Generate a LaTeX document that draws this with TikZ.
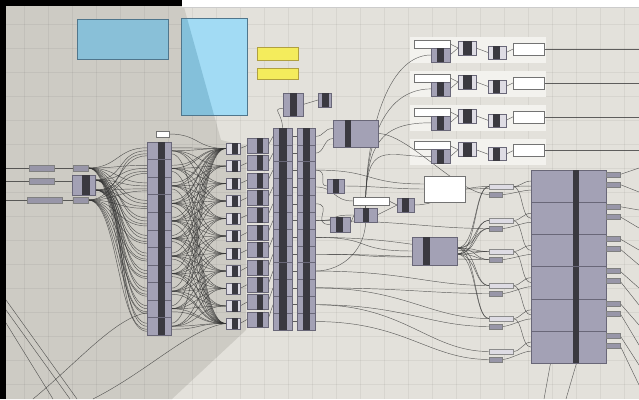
\documentclass[tikz,border=0pt]{standalone}
\usetikzlibrary{calc}
\definecolor{canL}{RGB}{227,225,219}
\definecolor{canD}{RGB}{205,203,196}
\definecolor{nodeF}{RGB}{163,161,181}
\definecolor{nodeB}{RGB}{105,103,120}
\definecolor{dk}{RGB}{58,57,64}
\definecolor{wireC}{RGB}{50,50,50}
\definecolor{panelC}{RGB}{243,242,238}
\definecolor{blueA}{RGB}{137,192,216}
\definecolor{blueB}{RGB}{162,219,244}
\definecolor{blueBs}{RGB}{132,192,218}
\definecolor{blueE}{RGB}{80,118,140}
\definecolor{yel}{RGB}{244,236,92}
\definecolor{yelE}{RGB}{176,160,64}
\definecolor{barF}{RGB}{152,150,168}
\definecolor{lightbar}{RGB}{222,220,228}
\pgfdeclarelayer{back}\pgfdeclarelayer{panels}\pgfdeclarelayer{wires}
\pgfsetlayers{back,panels,wires,main}
\tikzset{
 gnode/.style={draw=nodeB,fill=nodeF,line width=0.5pt,inner sep=0pt,outer sep=0pt,anchor=north west},
 wbox/.style={gnode,fill=white,draw=black!55},
 gbar/.style={gnode,fill=barF,draw=black!50},
 lbar/.style={gnode,fill=lightbar,draw=black!45},
 wire/.style={draw=wireC,line width=0.45pt,opacity=0.75},
 strip/.style={fill=dk},
}
\newcommand\ghn[8][]{\node[gnode,#1,minimum width=#5pt,minimum height=#6pt] (#2) at (#3,#4) {};\fill[strip] ({#3+#7},#4) rectangle ({#3+#7+#8},{#4+#6});}
\newcommand\gbx[6]{\node[#6,minimum width=#4pt,minimum height=#5pt] (#1) at (#2,#3) {};}
\begin{document}
\begin{tikzpicture}[x=1pt,y=-1pt]
\useasboundingbox (0,0) rectangle (639,399);
\begin{pgfonlayer}{back}
\fill[canL] (0,0) rectangle (639,399);
\fill[canD] (0,0) -- (182,0) -- (221,140) -- (246,146) -- (246,330) -- (172,399) -- (0,399) -- cycle;
\foreach \g in {0,24,...,639}{\draw[black,opacity=0.05,line width=0.5pt] (\g,0) -- (\g,399);}
\foreach \g in {0,24,...,399}{\draw[black,opacity=0.05,line width=0.5pt] (0,\g) -- (639,\g);}
\fill[black] (0,0) rectangle (182,6);
\fill[white] (182,0) rectangle (639,7);
\draw[black!20,line width=0.5pt] (182,7) -- (639,7);
\fill[black] (0,0) rectangle (6,399);
\end{pgfonlayer}

% blue and yellow panels
\node[gnode,fill=blueA,draw=blueE,minimum width=91pt,minimum height=40pt] (blue1) at (77,19) {};
\node[gnode,fill=blueB,draw=blueE,minimum width=66pt,minimum height=97pt] (blue2) at (181,18) {};
\fill[blueBs] (181,18) -- (187,18) -- (214,115) -- (181,115) -- cycle;
\draw[blueE,line width=0.5pt] (blue2.north west) rectangle (blue2.south east);
\gbx{Y1}{257}{47}{41}{13}{gnode,fill=yel,draw=yelE}
\gbx{Y2}{257}{68}{41}{11}{gnode,fill=yel,draw=yelE}

% left inputs
\gbx{L1}{29}{165}{25}{6}{gbar}
\gbx{L2}{29}{178}{25}{6}{gbar}
\gbx{L3}{27}{197}{35}{6}{gbar}
\gbx{S1}{73}{165}{15}{6}{gbar}
\gbx{S2}{73}{197}{15}{6}{gbar}
\ghn{N0}{72}{175}{23}{20}{10}{8}
\gbx{T0}{156}{131}{13}{6}{wbox}

% columns
\foreach \i in {1,...,11}{\pgfmathsetmacro\yy{142+(\i-1)*17.55}\ghn{A\i}{147}{\yy}{24}{17.55}{11}{7}}
\foreach \i in {1,...,11}{\pgfmathsetmacro\yy{143+(\i-1)*17.5}\ghn[fill=lightbar]{B\i}{226}{\yy}{14}{11}{6}{6}}
\foreach \i in {1,...,11}{\pgfmathsetmacro\yy{138+(\i-1)*17.4}\ghn{C\i}{247}{\yy}{21}{15}{10}{6}}
\foreach \i in {1,...,12}{\pgfmathsetmacro\yy{128+(\i-1)*16.83}\ghn{D\i}{273}{\yy}{19}{16.83}{6}{8}\ghn{E\i}{297}{\yy}{18}{16.83}{6}{7}}

% right column
\foreach \i in {1,...,6}{\pgfmathsetmacro\yy{170+(\i-1)*32.2}\pgfmathsetmacro\ya{\yy+2}\pgfmathsetmacro\yb{\yy+12}
 \ghn{R\i}{531}{\yy}{75}{32.2}{42}{6}
 \gbx{Pa\i}{606}{\ya}{14}{5}{gbar}\gbx{Pb\i}{606}{\yb}{14}{5}{gbar}}
\foreach \i/\yv in {1/184,2/218,3/249,4/283,5/316,6/349}{
 \gbx{I\i}{489}{\yv}{24}{5}{lbar}\gbx{J\i}{489}{\yv+8}{13}{5}{gbar}}

% top groups
\foreach \k in {1,...,4}{\pgfmathsetmacro\gy{37+(\k-1)*33.9}
 \begin{pgfonlayer}{panels}\fill[panelC] (410,\gy) rectangle (546,\gy+26);\end{pgfonlayer}
 \gbx{GW\k}{414}{\gy+3}{36}{8}{wbox}
 \ghn{Ga\k}{431}{\gy+11}{19}{14}{6}{7}
 \ghn[fill=lightbar]{Gb\k}{458}{\gy+4}{18}{14}{5}{9}
 \ghn[fill=lightbar]{Gc\k}{488}{\gy+9}{18}{13}{5}{7}
 \gbx{Gd\k}{513}{\gy+6}{31}{12}{wbox}
 \coordinate (go\k) at (639,\gy+12);}

% middle nodes
\ghn{M1}{283}{93}{20}{23}{7}{7}
\ghn{M2}{318}{93}{13}{14}{4}{7}
\ghn{M3}{333}{120}{45}{27}{12}{6}
\ghn{M4}{327}{179}{17}{14}{6}{6}
\gbx{WB}{353}{197}{36}{8}{wbox}
\ghn{M5}{354}{208}{23}{14}{9}{6}
\ghn{M6}{397}{198}{17}{14}{5}{7}
\ghn{M7}{330}{217}{20}{15}{6}{7}
\gbx{WX}{424}{176}{41}{26}{wbox}
\ghn{M8}{412}{237}{45}{28}{11}{7}

% free ends
\coordinate (e1) at (6,168); \coordinate (e2) at (6,181); \coordinate (e3) at (6,200);
\coordinate (ll1) at (6,300); \coordinate (lb1) at (77,399);
\coordinate (ll2) at (6,310); \coordinate (lb2) at (70,399);
\coordinate (ll3) at (6,323); \coordinate (lb3) at (53,399);
\coordinate (lb4) at (33,399); \coordinate (lb5) at (93,399);
\coordinate (bb1) at (544,399); \coordinate (bb2) at (566,399);
\foreach \k/\ta/\tb in {1/168/192,2/210/228,3/250/265,4/288/305,5/325/345,6/365/385}{
 \coordinate (ra\k) at (639,\ta); \coordinate (rb\k) at (639,\tb);}

\begin{pgfonlayer}{wires}
\draw[wire] (e1) -- (L1.west) (L1.east) -- (S1.west);
\draw[wire] (e2) -- (L2.west) (L2.east) -- ([yshift=4pt]N0.west);
\draw[wire] (e3) -- (L3.west) (L3.east) -- (S2.west);
\draw[wire] (ll1) -- (lb1); \draw[wire] (ll2) -- (lb2); \draw[wire] (ll3) -- (lb3);
\draw[wire] (lb4) .. controls (80,360) and (115,318) .. ([yshift=-4pt]A10.west);
\draw[wire] (lb5) .. controls (150,370) and (190,328) .. (B11.west);
% fan into column A
\foreach \i in {1,...,11}{
 \draw[wire] (S1.east) .. controls +(30,0) and +(-30,0) .. ([yshift=3pt]A\i.west);
 \draw[wire] ([yshift=5pt]N0.east) .. controls +(30,0) and +(-30,0) .. (A\i.west);
 \draw[wire] ([yshift=-5pt]N0.east) .. controls +(35,0) and +(-35,0) .. ([yshift=-3pt]A\i.west);
 \draw[wire] (S2.east) .. controls +(30,0) and +(-30,0) .. ([yshift=-5pt]A\i.west);
}
% A to B
\foreach \i in {1,...,11}{\foreach \j in {1,...,11}{
 \pgfmathtruncatemacro\dd{abs(\i-\j)}
 \ifnum\dd<4 \draw[wire] (A\i.east) .. controls +(28,0) and +(-28,0) .. (B\j.west);\fi}
 \draw[wire] ([yshift=-3pt]A\i.east) .. controls +(30,0) and +(-30,0) .. (B11.west);
 \draw[wire] ([yshift=3pt]A\i.east) .. controls +(30,0) and +(-30,0) .. (B1.west);
 \draw[wire] (B\i.east) -- (C\i.west);
 \draw[wire] (C\i.east) -- (D\i.west);}
\foreach \i in {1,...,12}{\draw[wire] (D\i.east) -- (E\i.west);}
\draw[wire] (T0.east) .. controls +(30,0) and +(-30,0) .. (B1.west);
\draw[wire] (D1.north) .. controls +(0,-15) and +(-12,0) .. ([yshift=-4pt]M1.west);
\draw[wire] (M1.east) -- (M2.west);
% from column E
\draw[wire] (E1.east) .. controls +(10,0) and +(-10,0) .. ([yshift=5pt]M3.west);
\draw[wire] (E2.east) .. controls +(10,0) and +(-10,0) .. ([yshift=-5pt]M3.west);
\draw[wire] (E3.east) .. controls +(15,0) and +(-10,0) .. (M4.west);
\draw[wire] (E3.east) .. controls +(60,0) and +(-60,0) .. ([yshift=5pt]WX.west);
\draw[wire] (E4.east) .. controls +(20,0) and +(-20,0) .. (WB.west);
\draw[wire] (E5.east) .. controls +(20,0) and +(-20,0) .. (M7.west);
\draw[wire] (E6.east) .. controls +(30,0) and +(-30,0) .. (M5.west);
\draw[wire] (E7.east) .. controls +(60,0) and +(-60,0) .. (M8.west);
\draw[wire] (E8.east) .. controls +(60,0) and +(-60,0) .. ([yshift=-6pt]M8.west);
\draw[wire] (E9.east) .. controls +(30,0) and +(0,25) .. (M5.south);
\draw[wire] (E8.east) .. controls +(90,0) and +(-60,0) .. (J3.west);
\draw[wire] (E9.east) .. controls +(90,0) and +(-60,0) .. (I4.west);
\draw[wire] (E10.east) .. controls +(90,0) and +(-60,0) .. (J4.west);
\draw[wire] (E10.east) .. controls +(90,0) and +(-60,0) .. (I5.west);
\draw[wire] (E11.east) .. controls +(90,0) and +(-60,0) .. (J5.west);
\draw[wire] (E11.east) .. controls +(90,0) and +(-60,0) .. (I6.west);
\draw[wire] (E12.east) .. controls +(90,0) and +(-60,0) .. (J6.west);
\draw[wire] (E7.east) .. controls +(90,0) and +(-60,0) .. (I3.west);
\draw[wire] (E6.east) .. controls +(90,0) and +(-60,0) .. (J2.west);
\draw[wire] (M4.east) .. controls +(30,0) and +(-30,0) .. (WX.west);
\draw[wire] (M7.east) -- (M5.west);
\draw[wire] (M5.east) -- (M6.west);
\draw[wire] (WB.east) -- (M6.west);
\draw[wire] (M6.east) .. controls +(30,0) and +(-40,0) .. (I1.west);
\draw[wire] (WX.east) .. controls +(30,0) and +(-30,0) .. (R1.west);
\draw[wire] (M3.east) .. controls +(30,0) and +(-30,0) .. (J1.west);
% hub to groups
\foreach \k in {1,...,4}{
 \draw[wire] (M5.north) .. controls +(0,-70) and +(-45,0) .. (Ga\k.west);
 \draw[wire] (GW\k.east) -- (Gb\k.west);
 \draw[wire] (Ga\k.east) -- (Gb\k.west);
 \draw[wire] (Gb\k.east) -- (Gc\k.west);
 \draw[wire] (Gc\k.east) -- (Gd\k.west);
 \draw[wire] (Gd\k.east) -- (go\k);}
% M8 fan
\foreach \t in {I1,I2,I3,I4,I5,J2,J3}{
 \draw[wire] ([yshift=3pt]M8.east) .. controls +(20,0) and +(-15,0) .. (\t.west);
 \draw[wire] ([yshift=-3pt]M8.east) .. controls +(20,0) and +(-15,0) .. (\t.west);}
% inputs to right column
\foreach \k in {1,...,6}{
 \draw[wire] (I\k.east) .. controls +(8,0) and +(-8,0) .. ([yshift=5pt]R\k.west);
 \draw[wire] (J\k.east) .. controls +(8,0) and +(-8,0) .. ([yshift=-4pt]R\k.west);
 \draw[wire] (Pa\k.east) -- (ra\k);
 \draw[wire] (Pb\k.east) -- (rb\k);}
\foreach \k/\m in {1/2,2/3,3/4,4/5,5/6}{
 \draw[wire] (I\k.east) .. controls +(10,0) and +(-10,0) .. (R\m.west);}
\draw[wire] ([xshift=-18pt]R6.south) -- (bb1);
\draw[wire] ([xshift=8pt]R6.south) -- (bb2);
\end{pgfonlayer}
\end{tikzpicture}
\end{document}
